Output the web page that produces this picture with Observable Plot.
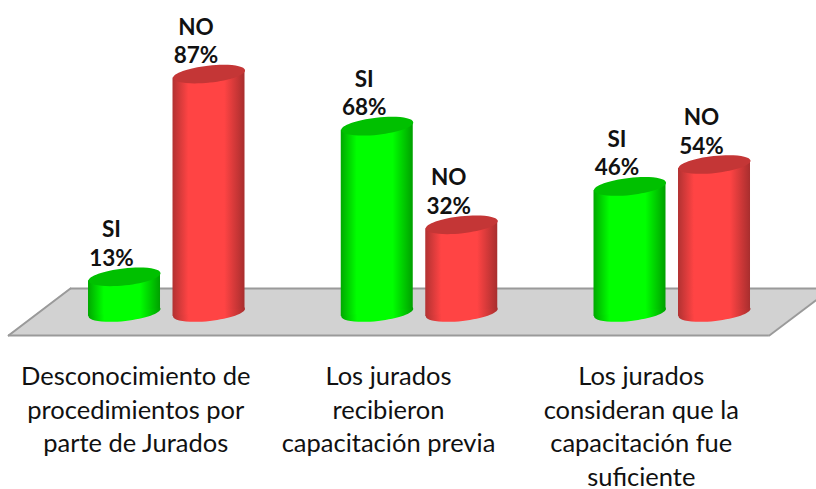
<!DOCTYPE html>
<html><head><meta charset="utf-8">
<script src="https://cdn.jsdelivr.net/npm/d3@7"></script>
<script src="https://cdn.jsdelivr.net/npm/@observablehq/plot@0.6"></script>
<style>html,body{margin:0;padding:0;background:#fff}svg{display:block}</style>
</head><body><div id="chart"></div>
<script>
const categories = [
  "Desconocimiento de\nprocedimientos por\nparte de Jurados",
  "Los jurados\nrecibieron\ncapacitación previa",
  "Los jurados\nconsideran que la\ncapacitación fue\nsuficiente"
];
const groups = [0, 1, 2];
const si = [13, 68, 46];
const no = [87, 32, 54];

// geometry in scale units
const pxX = 252.75, pxY = 2.74;
const offset = 42.25 / pxX, halfW = 36 / pxX, tilt = 4 / pxY;
const floorRows = [
  {x1: -0.626, x2: 2.384, y: -8.4},
  {x1: -0.381, x2: 2.63, y: 8.76}
];

function ellipse(rx, ry, rot) {
  const k = 0.5523, c = Math.cos(rot), s = Math.sin(rot);
  const p = (u, v) => [u * c - v * s, u * s + v * c];
  return {draw(ctx) {
    ctx.moveTo(...p(rx, 0));
    ctx.bezierCurveTo(...p(rx, k * ry), ...p(k * rx, ry), ...p(0, ry));
    ctx.bezierCurveTo(...p(-k * rx, ry), ...p(-rx, k * ry), ...p(-rx, 0));
    ctx.bezierCurveTo(...p(-rx, -k * ry), ...p(-k * rx, -ry), ...p(0, -ry));
    ctx.bezierCurveTo(...p(k * rx, -ry), ...p(rx, -k * ry), ...p(rx, 0));
    ctx.closePath();
  }};
}
const cap = ellipse(36.2, 8.5, -0.11);

function gradient(id, edgeL, mid, edgeR) {
  return `<linearGradient id="${id}" x1="0" x2="1" y1="0" y2="0">
    <stop offset="0" stop-color="${edgeL}"/><stop offset="0.22" stop-color="${mid}"/>
    <stop offset="0.72" stop-color="${mid}"/><stop offset="1" stop-color="${edgeR}"/></linearGradient>`;
}
const defs = () => {
  const g = d3.create("svg:g");
  g.append("defs").html(
    gradient("gGreen", "#00a800", "#00ff00", "#00a000") +
    gradient("gRed", "#b23232", "#ff4444", "#a82e2e"));
  return g.node();
};

function cylinders(name, values, dir, fillUrl, capColor) {
  const tops = groups.map(i => ({x: i + dir * offset, v: values[i], name}));
  const body = tops.flatMap((d, i) => [
    {x: d.x - halfW, y1: -tilt, y2: d.v - tilt, z: i},
    {x: d.x + halfW, y1: tilt, y2: d.v + tilt, z: i}
  ]);
  return [
    Plot.dot(tops, {x: "x", y: () => 0, r: 1, symbol: cap, fill: fillUrl, stroke: "none"}),
    Plot.areaY(body, {x: "x", y1: "y1", y2: "y2", z: "z", fill: fillUrl, curve: "linear"}),
    Plot.dot(tops, {x: "x", y: "v", r: 1, symbol: cap, fill: capColor, stroke: "none"}),
    Plot.text(tops, {
      x: "x", y: "v", text: d => `${d.name}\n${d.v}%`, dx: -13, dy: -11,
      lineAnchor: "bottom", lineHeight: 28.5 / 22.5, fontSize: 22.5, fontWeight: 700, fill: "#111"
    })
  ];
}

const chart = Plot.plot({
  width: 816, height: 489,
  marginTop: 0, marginRight: 0, marginLeft: 0, marginBottom: 154,
  style: {fontFamily: "Lato, sans-serif", background: "#fff", color: "#111"},
  x: {domain: [-0.6578, 2.5707], axis: null},
  y: {domain: [-8.4, 113.87], axis: null},
  marks: [
    defs,
    Plot.areaX(floorRows, {x1: "x1", x2: "x2", y: "y", fill: "#d2d2d2"}),
    Plot.line(floorRows, {x: "x1", y: "y", stroke: "#9a9a9a", strokeWidth: 2}),
    Plot.line(floorRows, {x: "x2", y: "y", stroke: "#9a9a9a", strokeWidth: 2}),
    Plot.ruleY(floorRows, {x1: "x1", x2: "x2", y: "y", stroke: "#9a9a9a", strokeWidth: 2}),
    ...cylinders("SI", si, -1, "url(#gGreen)", "#00c000"),
    ...cylinders("NO", no, 1, "url(#gRed)", "#c43636"),
    Plot.axisX({
      ticks: groups, tickSize: 0, tickPadding: 26, dx: -31, label: null,
      tickFormat: i => categories[i], fontSize: 25.5, lineHeight: 33.5 / 25.5,
      fill: "#111", lineAnchor: "top"
    })
  ]
});
document.getElementById("chart").append(chart);
</script></body></html>
